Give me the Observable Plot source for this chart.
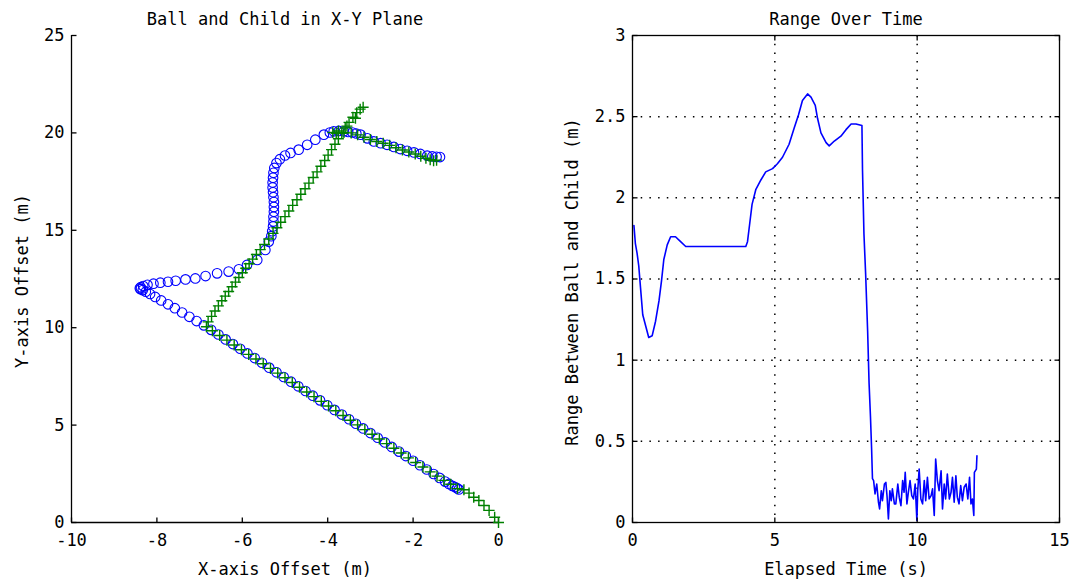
<!DOCTYPE html>
<html><head><meta charset="utf-8">
<script src="https://cdn.jsdelivr.net/npm/d3@7"></script>
<script src="https://cdn.jsdelivr.net/npm/@observablehq/plot@0.6"></script>
<style>
html,body{margin:0;padding:0;background:#fff;}
#wrap{position:relative;width:1075px;height:583px;overflow:hidden;background:#fff;}
#wrap svg{position:absolute;top:0;}
</style></head><body><div id="wrap"></div>
<script>
// ---------- data ----------
const leftTitle = "Ball and Child in X-Y Plane";
const leftXLabel = "X-axis Offset (m)";
const leftYLabel = "Y-axis Offset (m)";
const rightTitle = "Range Over Time";
const rightXLabel = "Elapsed Time (s)";
const rightYLabel = "Range Between Ball and Child (m)";

const xyDomainX = [-10, 0];
const xyDomainY = [0, 25];
const xyTicksX = [-10, -8, -6, -4, -2, 0];
const xyTicksY = [0, 5, 10, 15, 20, 25];

const rangeDomainX = [0, 15];
const rangeDomainY = [0, 3];
const rangeTicksX = [0, 5, 10, 15];
const rangeTicksY = [0, 0.5, 1, 1.5, 2, 2.5, 3];
const rangeGridX = [5, 10];
const rangeGridY = [0.5, 1, 1.5, 2, 2.5];

const ballPath = [
[-0.93,1.70],[-0.97,1.76],[-1.02,1.82],[-1.08,1.88],[-1.16,1.98],[-1.25,2.10],[-1.38,2.29],[-1.52,2.49],
[-1.68,2.72],[-1.84,2.94],[-2.00,3.17],[-2.17,3.41],[-2.33,3.64],[-2.50,3.88],[-2.66,4.11],[-2.83,4.35],
[-3.00,4.59],[-3.17,4.83],[-3.34,5.07],[-3.50,5.30],[-3.67,5.54],[-3.84,5.78],[-4.01,6.02],[-4.18,6.27],
[-4.35,6.51],[-4.52,6.75],[-4.69,6.99],[-4.86,7.23],[-5.03,7.47],[-5.20,7.71],[-5.37,7.95],[-5.54,8.20],
[-5.71,8.44],[-5.88,8.68],[-6.05,8.92],[-6.22,9.16],[-6.39,9.40],[-6.56,9.65],[-6.73,9.89],[-6.90,10.12],
[-7.07,10.34],[-7.24,10.56],[-7.41,10.78],[-7.58,11.00],[-7.74,11.20],[-7.90,11.40],[-8.04,11.58],[-8.16,11.73],
[-8.26,11.85],[-8.33,11.93],[-8.38,11.98],[-8.40,12.02],[-8.38,12.08],[-8.32,12.14],[-8.22,12.20],[-8.08,12.26],
[-7.92,12.31],[-7.74,12.36],[-7.56,12.41],[-7.33,12.48],[-7.10,12.53],[-6.86,12.65],[-6.59,12.79],[-6.32,12.88],
[-6.08,13.00],[-5.89,13.22],[-5.65,13.48],[-5.46,13.99],[-5.38,14.42],[-5.32,14.70],[-5.30,14.95],[-5.28,15.20],
[-5.27,15.45],[-5.27,15.70],[-5.26,15.95],[-5.26,16.20],[-5.26,16.45],[-5.27,16.70],[-5.28,16.95],[-5.29,17.20],
[-5.29,17.45],[-5.28,17.70],[-5.27,17.95],[-5.25,18.20],[-5.20,18.45],[-5.12,18.65],[-5.00,18.84],[-4.87,18.97],
[-4.68,19.14],[-4.48,19.39],[-4.29,19.65],[-4.09,19.91],[-3.95,20.02],[-3.86,20.08],[-3.74,20.10],[-3.62,20.08],
[-3.52,20.05],[-3.42,20.02],[-3.33,19.97],[-3.23,19.91],[-3.07,19.72],[-2.92,19.56],[-2.76,19.47],[-2.61,19.39],
[-2.45,19.28],[-2.30,19.17],[-2.14,19.08],[-1.98,19.00],[-1.83,18.92],[-1.67,18.83],[-1.55,18.79],[-1.45,18.77],
[-1.37,18.76]
];

const childPath = [
[0,0],[-0.09,0.27],[-0.22,0.62],[-0.34,0.87],[-0.46,1.13],[-0.58,1.30],[-0.69,1.51],[-0.81,1.68],
[-0.96,1.74],[-1.12,1.96],[-1.28,2.16],[-1.44,2.38],[-1.60,2.60],[-1.77,2.85],[-1.94,3.08],[-2.11,3.32],
[-2.28,3.57],[-2.45,3.81],[-2.62,4.05],[-2.79,4.29],[-2.96,4.53],[-3.13,4.77],[-3.30,5.01],[-3.47,5.25],
[-3.64,5.49],[-3.81,5.74],[-3.98,5.98],[-4.15,6.22],[-4.32,6.46],[-4.49,6.70],[-4.66,6.94],[-4.83,7.19],
[-5.00,7.43],[-5.17,7.67],[-5.34,7.91],[-5.51,8.15],[-5.68,8.39],[-5.85,8.63],[-6.02,8.87],[-6.19,9.11],
[-6.36,9.36],[-6.53,9.60],[-6.70,9.84],[-6.84,10.05],
[-6.80,10.30],[-6.72,10.58],[-6.64,10.86],[-6.56,11.12],[-6.48,11.38],[-6.40,11.62],[-6.32,11.86],[-6.24,12.10],
[-6.16,12.34],[-6.08,12.58],[-6.00,12.82],[-5.92,13.05],[-5.84,13.28],[-5.76,13.52],[-5.67,13.76],[-5.58,14.01],
[-5.48,14.27],[-5.38,14.55],[-5.28,14.84],[-5.19,15.13],[-5.10,15.41],[-5.00,15.70],[-4.91,15.99],[-4.82,16.28],
[-4.72,16.57],[-4.63,16.85],[-4.53,17.13],[-4.44,17.42],[-4.34,17.71],[-4.25,18.00],[-4.16,18.29],[-4.07,18.58],
[-3.99,18.86],[-3.91,19.14],[-3.83,19.42],[-3.75,19.70],[-3.67,19.98],[-3.59,20.26],[-3.50,20.54],[-3.41,20.80],
[-3.32,21.04],[-3.24,21.22],[-3.17,21.32],
[-3.35,20.75],[-3.55,20.35],[-3.75,20.10],[-3.88,20.02],[-3.80,19.98],[-3.62,20.02],[-3.45,20.00],[-3.30,19.90],
[-3.15,19.78],[-3.00,19.66],[-2.85,19.56],[-2.70,19.47],[-2.55,19.36],[-2.40,19.24],[-2.25,19.12],[-2.10,19.02],
[-1.95,18.92],[-1.82,18.80],[-1.70,18.70],[-1.60,18.62],[-1.52,18.57],[-1.45,18.60]
];

const rangeTime = [
0.05,0.10,0.16,0.22,0.28,0.36,0.48,0.57,0.69,0.81,0.93,1.02,1.10,1.22,1.34,1.51,1.69,1.87,
3.98,4.04,4.12,4.20,4.33,4.51,4.68,4.92,5.09,5.27,5.50,5.68,5.83,5.97,6.15,6.27,6.42,6.50,
6.62,6.80,6.91,7.09,7.32,7.50,7.68,7.85,8.06,8.08,8.13,8.19,8.26,8.31,8.36,8.40,8.43,
8.47,8.52,8.58,8.64,8.68,8.74,8.78,8.85,8.90,8.94,8.99,9.04,9.09,9.13,9.20,9.25,9.32,9.37,
9.43,9.49,9.54,9.58,9.64,9.69,9.75,9.81,9.87,9.93,9.99,10.02,10.07,10.13,10.19,10.25,10.30,
10.36,10.42,10.49,10.54,10.60,10.65,10.71,10.77,10.84,10.89,10.95,11.00,11.06,11.13,11.19,
11.24,11.30,11.36,11.41,11.47,11.53,11.59,11.65,11.72,11.78,11.84,11.89,11.94,11.99,12.01,
12.08,12.10
];
const rangeValue = [
1.83,1.72,1.66,1.58,1.45,1.28,1.20,1.14,1.15,1.24,1.365,1.49,1.62,1.71,1.76,1.76,1.73,1.70,
1.70,1.73,1.845,1.96,2.05,2.11,2.16,2.18,2.21,2.25,2.33,2.43,2.51,2.60,2.64,2.62,2.57,2.49,
2.40,2.34,2.32,2.35,2.38,2.42,2.455,2.455,2.445,2.17,1.78,1.53,1.18,0.86,0.65,0.45,0.27,
0.258,0.176,0.237,0.125,0.084,0.196,0.135,0.237,0.247,0.166,0.022,0.196,0.135,0.207,0.115,0.115,0.237,0.156,
0.104,0.258,0.186,0.309,0.115,0.186,0.258,0.166,0.145,0.237,0.012,0.196,0.329,0.145,0.115,0.258,0.135,
0.278,0.145,0.166,0.207,0.043,0.391,0.258,0.196,0.319,0.084,0.237,0.145,0.299,0.145,0.186,
0.278,0.125,0.288,0.156,0.115,0.227,0.135,0.217,0.237,0.145,0.278,0.115,0.145,0.043,0.309,
0.329,0.411
];

// ---------- drawing ----------
const FONT = "'DejaVu Sans Mono', 'Liberation Mono', monospace";
const FS = 17;
const fmt = d => String(d);
const stick = (dx, dy) => ({draw(ctx) { ctx.moveTo(0, 0); ctx.lineTo(dx, dy); }});
const plusSym = {draw(ctx) { ctx.moveTo(-5.5, 0); ctx.lineTo(5.5, 0); ctx.moveTo(0, -5.5); ctx.lineTo(0, 5.5); }};
const AX = {stroke: "#000", strokeWidth: 1.3};

const left = Plot.plot({
  width: 540, height: 583,
  marginLeft: 71, marginRight: 42, marginTop: 35, marginBottom: 61,
  style: {fontFamily: FONT, fontSize: FS + "px", background: "#fff", color: "#000"},
  x: {domain: xyDomainX},
  y: {domain: xyDomainY},
  marks: [
    Plot.axisX(xyTicksX, {tickSize: 0, tickPadding: 11, tickFormat: fmt, label: null, fontSize: FS}),
    Plot.axisY(xyTicksY, {tickSize: 0, tickPadding: 7, tickFormat: fmt, label: null, fontSize: FS}),
    Plot.ruleX([xyDomainX[0]], AX),
    Plot.ruleY([xyDomainY[0]], AX),
    Plot.dot(xyTicksY, {y: d => d, frameAnchor: "left", symbol: stick(5, 0), ...AX}),
    Plot.dot(xyTicksX, {x: d => d, frameAnchor: "bottom", symbol: stick(0, -5), ...AX}),
    Plot.dot(ballPath, {x: d => d[0], y: d => d[1], r: 4.8, stroke: "#0000ff", strokeWidth: 1.1, fill: "none"}),
    Plot.dot(childPath, {x: d => d[0], y: d => d[1], symbol: plusSym, stroke: "#008000", strokeWidth: 1.4}),
    Plot.text([leftTitle], {text: d => d, frameAnchor: "top", textAnchor: "middle", dy: -23, fontSize: FS}),
    Plot.text([leftXLabel], {text: d => d, frameAnchor: "bottom", textAnchor: "middle", dy: 52, fontSize: FS}),
    Plot.text([leftYLabel], {text: d => d, frameAnchor: "left", textAnchor: "middle", dx: -49, dy: 2, rotate: -90, fontSize: FS})
  ]
});

const rangeData = rangeTime.map((t, i) => ({t, r: rangeValue[i]}));
const right = Plot.plot({
  width: 538, height: 583,
  marginLeft: 95, marginRight: 16, marginTop: 35, marginBottom: 61,
  style: {fontFamily: FONT, fontSize: FS + "px", background: "#fff", color: "#000"},
  x: {domain: rangeDomainX},
  y: {domain: rangeDomainY},
  marks: [
    Plot.ruleX(rangeGridX, {stroke: "#000", strokeWidth: 1.5, strokeDasharray: "1.5,7.2"}),
    Plot.ruleY(rangeGridY, {stroke: "#000", strokeWidth: 1.5, strokeDasharray: "1.5,7.2"}),
    Plot.line(rangeData, {x: "t", y: "r", stroke: "#0000ff", strokeWidth: 1.6}),
    Plot.axisX(rangeTicksX, {tickSize: 0, tickPadding: 11, tickFormat: fmt, label: null, fontSize: FS}),
    Plot.axisY(rangeTicksY, {tickSize: 0, tickPadding: 7, tickFormat: fmt, label: null, fontSize: FS}),
    Plot.frame(AX),
    Plot.dot(rangeTicksY, {y: d => d, frameAnchor: "left", symbol: stick(5, 0), ...AX}),
    Plot.dot(rangeTicksY, {y: d => d, frameAnchor: "right", symbol: stick(-5, 0), ...AX}),
    Plot.dot(rangeTicksX, {x: d => d, frameAnchor: "bottom", symbol: stick(0, -5), ...AX}),
    Plot.dot(rangeTicksX, {x: d => d, frameAnchor: "top", symbol: stick(0, 5), ...AX}),
    Plot.text([rightTitle], {text: d => d, frameAnchor: "top", textAnchor: "middle", dy: -23, fontSize: FS}),
    Plot.text([rightXLabel], {text: d => d, frameAnchor: "bottom", textAnchor: "middle", dy: 52, fontSize: FS}),
    Plot.text([rightYLabel], {text: d => d, frameAnchor: "left", textAnchor: "middle", dx: -60, dy: 3, rotate: -90, fontSize: FS})
  ]
});

const wrap = document.getElementById("wrap");
left.style.left = "0px";
right.style.left = "537px";
wrap.appendChild(left);
wrap.appendChild(right);
</script>
</body></html>
